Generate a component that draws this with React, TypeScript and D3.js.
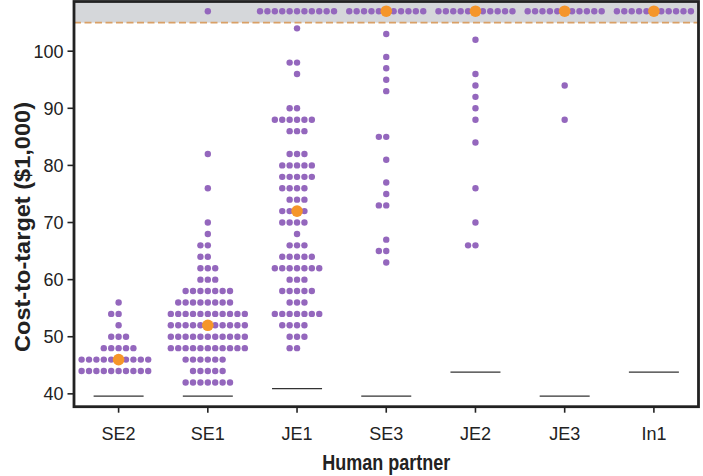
import React from "react";
import * as d3 from "d3";

const categories = ["SE2", "SE1", "JE1", "SE3", "JE2", "JE3", "In1"];
const yTicks = [40, 50, 60, 70, 80, 90, 100];

// dot-plot bins: [value ($1,000), number of dots]
const se2Bins = [[56, 1], [54, 2], [52, 1], [50, 3], [48, 5], [46, 10], [44, 10]];
const se1Bins = [[107, 1], [82, 1], [76, 1], [70, 1], [68, 1], [66, 2], [64, 2], [62, 3], [60, 3], [58, 7], [56, 8], [54, 11], [52, 11], [50, 11], [48, 11], [46, 6], [44, 5], [42, 7]];
const je1Bins = [[107, 11], [104, 1], [98, 2], [96, 1], [90, 2], [88, 6], [86, 3], [82, 3], [80, 5], [78, 5], [76, 4], [74, 3], [72, 4], [70, 4], [68, 1], [66, 3], [64, 5], [62, 7], [60, 3], [58, 5], [56, 3], [54, 7], [52, 4], [50, 3], [48, 2]];
const se3Bins = [[107, 11], [103, 1], [99, 1], [97, 1], [95, 1], [93, 1], [85, 2], [81, 1], [77, 1], [75, 1], [73, 2], [67, 1], [65, 2], [63, 1]];
const je2Bins = [[107, 11], [102, 1], [96, 1], [94, 1], [92, 1], [90, 1], [88, 1], [84, 1], [76, 1], [70, 1], [66, 2]];
const je3Bins = [[107, 11], [94, 1], [88, 1]];
const in1Bins = [[107, 11]];
const allBins = [se2Bins, se1Bins, je1Bins, se3Bins, je2Bins, je3Bins, in1Bins];

const medians = [46, 52, 72, 107, 107, 107, 107];
const referenceLines = [39.6, 39.6, 40.9, 39.6, 43.8, 39.6, 43.8];
const capValue = 105;
const yDomain = [37.75, 108.7];

const W = 703;
const H = 476;
const panel = { left: 74, right: 698.5, top: 1.5, bottom: 406.7 };
const FONT = "'Liberation Sans', Arial, Helvetica, sans-serif";
const PURPLE = "#9467bd";
const ORANGE = "#f5962a";
const INK = "#222";

export default function App() {
  const x = d3.scaleBand().domain(categories).range([panel.left, panel.right]);
  const y = d3.scaleLinear().domain(yDomain).range([panel.bottom, panel.top]);
  const cx = (c: string) => (x(c) as number) + x.bandwidth() / 2;
  const step = 7.4;

  const dots: { x: number; y: number; key: string }[] = [];
  categories.forEach((c, i) => {
    allBins[i].forEach(([v, n]) => {
      for (let k = 0; k < n; k++) {
        const pos = k - Math.floor(n / 2);
        dots.push({ x: cx(c) + pos * step, y: y(v), key: `${c}-${v}-${k}` });
      }
    });
  });

  const plotW = panel.right - panel.left;

  return (
    <svg
      width={W}
      height={H}
      style={{ position: "absolute", left: 0, top: 0, background: "#fff" }}
      fontFamily={FONT}
    >
      <rect x={0} y={0} width={W} height={H} fill="#fff" />
      {/* capped region */}
      <rect
        x={panel.left}
        y={panel.top}
        width={plotW}
        height={y(capValue) - panel.top}
        fill="#d5d7da"
      />
      <line
        x1={panel.left}
        x2={panel.right}
        y1={y(capValue)}
        y2={y(capValue)}
        stroke="#d9a066"
        strokeWidth={1.6}
        strokeDasharray="7,3.5"
      />
      {/* reference lines */}
      {categories.map((c, i) => (
        <line
          key={`ref-${c}`}
          x1={cx(c) - 25}
          x2={cx(c) + 25}
          y1={y(referenceLines[i])}
          y2={y(referenceLines[i])}
          stroke="#333"
          strokeWidth={1.3}
        />
      ))}
      {/* dots */}
      {dots.map((d) => (
        <circle key={d.key} cx={d.x} cy={d.y} r={3.2} fill={PURPLE} />
      ))}
      {/* medians */}
      {categories.map((c, i) => (
        <circle key={`med-${c}`} cx={cx(c)} cy={y(medians[i])} r={5.8} fill={ORANGE} />
      ))}
      {/* panel border */}
      <rect
        x={panel.left}
        y={panel.top}
        width={plotW}
        height={panel.bottom - panel.top}
        fill="none"
        stroke={INK}
        strokeWidth={2.8}
      />
      {/* y axis */}
      {yTicks.map((t) => (
        <g key={`yt-${t}`}>
          <line x1={67.5} x2={panel.left} y1={y(t)} y2={y(t)} stroke={INK} strokeWidth={1.6} />
          <text x={63.5} y={y(t)} dy="0.36em" textAnchor="end" fontSize={18} fill={INK}>
            {t}
          </text>
        </g>
      ))}
      {/* x axis */}
      {categories.map((c) => (
        <g key={`xt-${c}`}>
          <line x1={cx(c)} x2={cx(c)} y1={panel.bottom} y2={panel.bottom + 6} stroke={INK} strokeWidth={1.6} />
          <text x={cx(c)} y={440} textAnchor="middle" fontSize={18} fill={INK}>
            {c}
          </text>
        </g>
      ))}
      <text
        x={(panel.left + panel.right) / 2}
        y={470}
        textAnchor="middle"
        fontSize={22}
        fontWeight="bold"
        fill={INK}
        textLength={128}
        lengthAdjust="spacingAndGlyphs"
      >
        Human partner
      </text>
      <text
        transform={`translate(30, 227) rotate(-90)`}
        textAnchor="middle"
        fontSize={22}
        fontWeight="bold"
        fill={INK}
        textLength={250}
        lengthAdjust="spacingAndGlyphs"
      >
        Cost-to-target ($1,000)
      </text>
    </svg>
  );
}
